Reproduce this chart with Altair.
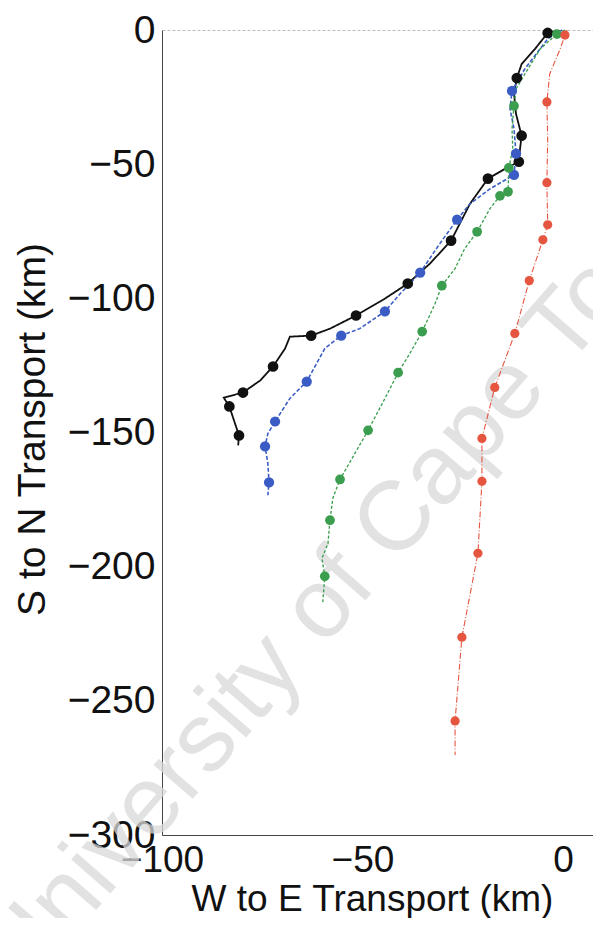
import altair as alt
import pandas as pd

# ---- data (km) ----
series_names = ["black", "blue", "green", "red"]
series_colors = ["#111111", "#3a5cc4", "#3a9e4e", "#e5553f"]

# line vertices (x = W to E, y = S to N)
black_line_x = [-1.7, -3.8, -7.0, -10.3, -11.5, -12.2, -11.7, -10.3, -10.7, -11.0, -14.4, -18.7, -23.2, -27.9, -33.2, -38.7, -44.4, -51.6, -58.1, -62.8, -68.1, -69.3, -72.3, -75.5, -79.8, -84.6, -83.2, -81.8, -80.8, -81.0]
black_line_y = [-0.4, -1.1, -7.1, -12.7, -17.9, -23.8, -31.3, -39.4, -44.3, -49.1, -51.7, -55.4, -64.8, -78.5, -87.1, -94.5, -100.1, -106.4, -111.3, -113.9, -114.3, -118.7, -125.4, -130.6, -135.1, -137.0, -140.3, -146.6, -151.1, -154.8]

blue_line_x = [-0.2, -3.8, -9.5, -12.7, -13.2, -12.2, -11.7, -12.2, -18.2, -23.2, -26.4, -30.7, -35.6, -40.6, -44.4, -50.7, -55.3, -59.4, -63.9, -68.1, -71.8, -73.6, -74.3, -73.6, -73.3, -73.6]
blue_line_y = [0.0, -3.3, -14.5, -22.7, -29.4, -36.8, -46.1, -54.0, -59.2, -64.8, -70.7, -79.6, -90.4, -98.3, -104.9, -111.3, -113.9, -118.7, -131.0, -137.3, -145.9, -150.4, -155.2, -161.5, -168.6, -173.4]

green_line_x = [0.5, -1.5, -5.7, -9.5, -11.7, -12.2, -12.7, -12.5, -13.5, -13.7, -15.7, -18.2, -21.4, -24.5, -26.9, -30.2, -31.9, -35.1, -38.2, -41.1, -44.4, -48.6, -51.9, -55.6, -57.4, -58.1, -58.6, -60.1, -59.4, -59.9]
green_line_y = [0.0, -1.5, -7.1, -16.4, -22.0, -28.3, -36.8, -44.3, -51.4, -60.3, -61.8, -66.6, -75.2, -81.5, -88.9, -95.3, -102.0, -112.4, -120.6, -127.7, -137.3, -149.2, -157.8, -167.5, -174.5, -182.7, -191.3, -196.9, -203.6, -213.2]

red_line_x = [1.0, 0.5, -0.7, -3.3, -4.0, -3.8, -4.0, -3.8, -5.0, -8.4, -12.0, -17.0, -20.2, -20.2, -21.2, -25.2, -26.9, -26.9]
red_line_y = [0.0, -1.9, -7.1, -16.4, -26.8, -40.6, -56.9, -72.6, -78.2, -93.4, -113.1, -133.2, -152.2, -168.2, -195.0, -226.3, -257.5, -270.2]

# marker positions
black_dot_x = [-3.8, -11.5, -10.3, -11.0, -18.7, -27.9, -38.7, -51.6, -62.8, -72.3, -79.8, -83.2, -80.8]
black_dot_y = [-1.1, -17.9, -39.4, -49.1, -55.4, -78.5, -94.5, -106.4, -113.9, -125.4, -135.1, -140.3, -151.1]

blue_dot_x = [-12.7, -11.7, -12.2, -26.4, -35.6, -44.4, -55.3, -63.9, -71.8, -74.3, -73.3]
blue_dot_y = [-22.7, -46.1, -54.0, -70.7, -90.4, -104.9, -113.9, -131.0, -145.9, -155.2, -168.6]

green_dot_x = [-1.5, -12.2, -13.5, -13.7, -15.7, -21.4, -30.2, -35.1, -41.1, -48.6, -55.6, -58.1, -59.4]
green_dot_y = [-1.5, -28.3, -51.4, -60.3, -61.8, -75.2, -95.3, -112.4, -127.7, -149.2, -167.5, -182.7, -203.6]

red_dot_x = [0.5, -4.0, -4.0, -3.8, -5.0, -8.4, -12.0, -17.0, -20.2, -20.2, -21.2, -25.2, -26.9]
red_dot_y = [-1.9, -26.8, -56.9, -72.6, -78.2, -93.4, -113.1, -133.2, -152.2, -168.2, -195.0, -226.3, -257.5]

x_ticks = [-100, -50, 0]
y_ticks = [-300, -250, -200, -150, -100, -50, 0]
x_title = "W to E Transport (km)"
y_title = "S to N Transport (km)"
watermark = "University of Cape Town"

# ---- tables ----
line_sets = {
    "black": (black_line_x, black_line_y),
    "blue": (blue_line_x, blue_line_y),
    "green": (green_line_x, green_line_y),
    "red": (red_line_x, red_line_y),
}
dot_sets = {
    "black": (black_dot_x, black_dot_y),
    "blue": (blue_dot_x, blue_dot_y),
    "green": (green_dot_x, green_dot_y),
    "red": (red_dot_x, red_dot_y),
}
lines_rows, dots_rows = [], []
for s, (xs_, ys_) in line_sets.items():
    for i, (a, b) in enumerate(zip(xs_, ys_)):
        lines_rows.append({"series": s, "i": i, "x": a, "y": b})
for s, (xs_, ys_) in dot_sets.items():
    for a, b in zip(xs_, ys_):
        dots_rows.append({"series": s, "x": a, "y": b})
lines_df = pd.DataFrame(lines_rows)
dots_df = pd.DataFrame(dots_rows)

FONT = "Liberation Sans"
FS = 39
FSX = 37
xs = alt.Scale(domain=[-100, 7.5], nice=False, zero=False)
ys = alt.Scale(domain=[-300, 0], nice=False, zero=False)
cs = alt.Scale(domain=series_names, range=series_colors)

x_enc = alt.X("x:Q", scale=xs, axis=alt.Axis(
    values=x_ticks, title=x_title, grid=False, ticks=False, labelPadding=7,
    domainColor="#444444", labelFontSize=FSX, titleFontSize=FSX,
    labelColor="#111111", titleColor="#111111", labelFont=FONT, titleFont=FONT,
    titleFontWeight="normal", titleX=210, titleY=75, titleBaseline="alphabetic",
    labelExpr="datum.value < 0 ? datum.label + '\u2002' : datum.label",
    labelFlush=False, labelOverlap=False))
y_enc = alt.Y("y:Q", scale=ys, axis=alt.Axis(
    values=y_ticks, title=y_title, grid=False, ticks=False, labelPadding=7,
    domainColor="#444444", labelFontSize=FS, titleFontSize=FS,
    labelColor="#111111", titleColor="#111111", labelFont=FONT, titleFont=FONT,
    titleFontWeight="normal", titleX=-130, titleY=399, titleBaseline="middle",
    labelFlush=False, labelOverlap=False))

wm = alt.Chart(pd.DataFrame({"t": [watermark]})).mark_text(
    font=FONT, fontSize=98, angle=311, color="#d9d9d9", opacity=0.75,
    align="center", baseline="middle"
).encode(text="t:N", x=alt.value(186), y=alt.value(546))

lines = alt.Chart(lines_df).mark_line(interpolate="linear").encode(
    x=x_enc, y=y_enc, order="i:Q",
    color=alt.Color("series:N", scale=cs, legend=None),
    strokeDash=alt.StrokeDash("series:N", scale=alt.Scale(
        domain=series_names, range=[[1, 0], [4, 2], [3, 2], [6, 2, 1, 2]]), legend=None),
    strokeWidth=alt.StrokeWidth("series:N", scale=alt.Scale(
        domain=series_names, range=[1.8, 1.1, 1.1, 1.1]), legend=None),
)

dots = alt.Chart(dots_df).mark_circle(opacity=1).encode(
    x=alt.X("x:Q", scale=xs, axis=alt.Axis(
        orient="top", labels=False, ticks=False, title=None, grid=False,
        domainColor="#bbbbbb", domainDash=[3, 2], domainWidth=1)),
    y=alt.Y("y:Q", scale=ys),
    color=alt.Color("series:N", scale=cs, legend=None),
    size=alt.Size("series:N", scale=alt.Scale(domain=series_names, range=[115, 85, 85, 85]), legend=None),
)

chart = alt.layer(wm, lines, dots).resolve_axis(x="independent").properties(
    width=431, height=805,
    autosize=alt.AutoSizeParams(type="none"),
    padding={"left": 154, "top": 22, "right": 0, "bottom": 83},
    background="white",
).configure_view(stroke=None)

chart.save("out.html", embed_options={"renderer": "svg", "actions": False})
